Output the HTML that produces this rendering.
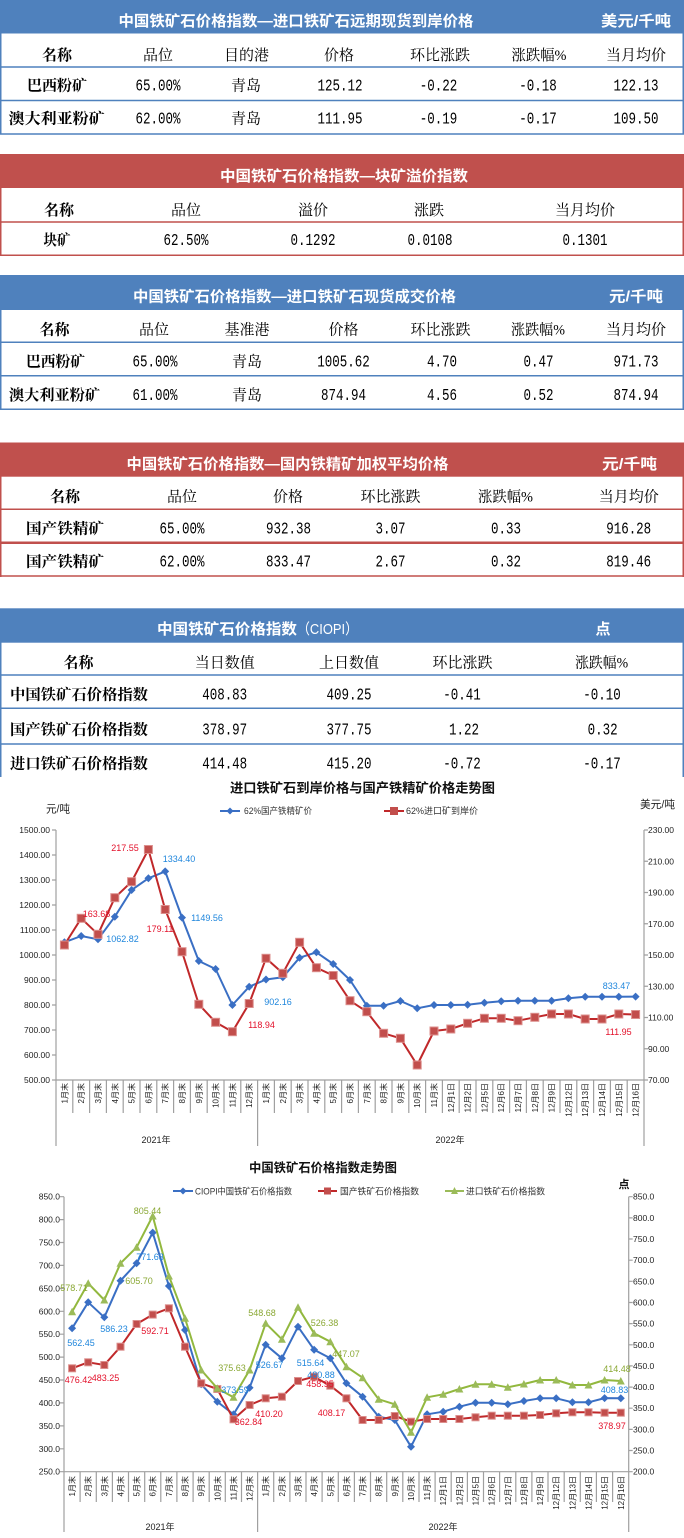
<!DOCTYPE html>
<html><head><meta charset="utf-8"><style>
html,body{margin:0;padding:0;background:#fff}
svg{display:block}
.t{font-family:"Liberation Sans","Noto Sans CJK SC",sans-serif;font-weight:bold;font-size:15px;fill:#fff}
.tn{font-family:"Liberation Sans","Noto Sans CJK SC",sans-serif;font-size:15px;fill:#fff}
.h{font-family:"Liberation Serif","Noto Serif CJK SC",serif;font-size:15px;fill:#000;text-anchor:middle}
.b{font-family:"Liberation Serif","Noto Serif CJK SC",serif;font-size:15px;font-weight:bold;fill:#000;text-anchor:middle}
.n{font-family:"Liberation Mono",monospace;font-size:17px;fill:#000;text-anchor:middle}
.ct{font-family:"Liberation Sans","Noto Sans CJK SC",sans-serif;font-weight:bold;fill:#111}
.lg{font-family:"Liberation Sans","Noto Sans CJK SC",sans-serif;font-size:9px;fill:#333}
.yl{font-family:"Liberation Sans",sans-serif;font-size:8.5px;fill:#222;text-anchor:end}
.yr{font-family:"Liberation Sans",sans-serif;font-size:8.5px;fill:#222}
.xl{font-family:"Liberation Sans","Noto Sans CJK SC",sans-serif;font-size:8px;fill:#222;text-anchor:end}
.yr2{font-family:"Liberation Sans","Noto Sans CJK SC",sans-serif;font-size:9px;fill:#222;text-anchor:middle}
.u{font-family:"Liberation Sans","Noto Sans CJK SC",sans-serif;font-size:11px;fill:#222}
.dl{font-family:"Liberation Sans",sans-serif;font-size:9px;text-anchor:middle}
.dB{fill:#1f86dc}.dR{fill:#e3112b}.dG{fill:#8aa834}
</style></head><body>
<svg width="684" height="1538" viewBox="0 0 684 1538" xmlns="http://www.w3.org/2000/svg">
<defs>
<marker id="dia" markerWidth="9" markerHeight="9" refX="4.5" refY="4.5" markerUnits="userSpaceOnUse"><path d="M4.5 0.5 L8.5 4.5 L4.5 8.5 L0.5 4.5Z" fill="#3a6fc4"/></marker>
<marker id="sq1" markerWidth="10" markerHeight="10" refX="5" refY="5" markerUnits="userSpaceOnUse"><rect x="1" y="1" width="8" height="8" fill="#c24e4c" stroke="#dc8f8d" stroke-width="1"/></marker>
<marker id="sq2" markerWidth="9" markerHeight="9" refX="4.5" refY="4.5" markerUnits="userSpaceOnUse"><rect x="1" y="1" width="7" height="7" fill="#c24e4c" stroke="#dc8f8d" stroke-width="1"/></marker>
<marker id="tri" markerWidth="10" markerHeight="10" refX="5" refY="5" markerUnits="userSpaceOnUse"><path d="M5 1 L9 8.5 L1 8.5Z" fill="#9bbb59"/></marker>
</defs>

<!-- TABLE 1 -->
<rect x="0" y="0" width="684" height="33.5" fill="#4f81bd"/>
<text class="t" x="296" y="26.2" text-anchor="middle" textLength="355" lengthAdjust="spacingAndGlyphs">中国铁矿石价格指数—进口铁矿石远期现货到岸价格</text>
<text class="t" x="636" y="26.2" text-anchor="middle" textLength="70" lengthAdjust="spacingAndGlyphs">美元/千吨</text>
<g stroke="#4f81bd" stroke-width="1.5" fill="none">
<path d="M0 67H684M0 100.5H684M0 134H684M0.75 33V134.5M683.25 33V134.5"/>
</g>
<text class="b" x="57" y="60" textLength="30" lengthAdjust="spacingAndGlyphs">名称</text>
<text class="h" x="158" y="60">品位</text>
<text class="h" x="246.5" y="60">目的港</text>
<text class="h" x="339" y="60">价格</text>
<text class="h" x="440" y="60">环比涨跌</text>
<text class="h" x="539" y="60" textLength="55" lengthAdjust="spacingAndGlyphs">涨跌幅%</text>
<text class="h" x="636" y="60">当月均价</text>
<text class="b" x="57" y="90.7" textLength="60" lengthAdjust="spacingAndGlyphs">巴西粉矿</text>
<text class="n" x="158" y="90.7" textLength="45" lengthAdjust="spacingAndGlyphs">65.00%</text>
<text class="h" x="246" y="90.7">青岛</text>
<text class="n" x="340" y="90.7" textLength="45" lengthAdjust="spacingAndGlyphs">125.12</text>
<text class="n" x="438.5" y="90.7" textLength="37.5" lengthAdjust="spacingAndGlyphs">-0.22</text>
<text class="n" x="538" y="90.7" textLength="37.5" lengthAdjust="spacingAndGlyphs">-0.18</text>
<text class="n" x="636" y="90.7" textLength="45" lengthAdjust="spacingAndGlyphs">122.13</text>
<text class="b" x="56.7" y="123.7" textLength="96" lengthAdjust="spacingAndGlyphs">澳大利亚粉矿</text>
<text class="n" x="158" y="123.7" textLength="45" lengthAdjust="spacingAndGlyphs">62.00%</text>
<text class="h" x="246" y="123.7">青岛</text>
<text class="n" x="340" y="123.7" textLength="45" lengthAdjust="spacingAndGlyphs">111.95</text>
<text class="n" x="438.5" y="123.7" textLength="37.5" lengthAdjust="spacingAndGlyphs">-0.19</text>
<text class="n" x="538" y="123.7" textLength="37.5" lengthAdjust="spacingAndGlyphs">-0.17</text>
<text class="n" x="636" y="123.7" textLength="45" lengthAdjust="spacingAndGlyphs">109.50</text>

<!-- TABLE 2 -->
<rect x="0" y="154" width="684" height="34" fill="#c0504d"/>
<text class="t" x="344" y="181" text-anchor="middle" textLength="248" lengthAdjust="spacingAndGlyphs">中国铁矿石价格指数—块矿溢价指数</text>
<g stroke="#c0504d" stroke-width="1.5" fill="none">
<path d="M0 222H684M0 255.3H684M0.75 188V256M683.25 188V256"/>
</g>
<text class="b" x="59" y="215" textLength="30" lengthAdjust="spacingAndGlyphs">名称</text>
<text class="h" x="186" y="215">品位</text>
<text class="h" x="313" y="215">溢价</text>
<text class="h" x="429" y="215">涨跌</text>
<text class="h" x="585" y="215">当月均价</text>
<text class="b" x="57" y="245" textLength="27" lengthAdjust="spacingAndGlyphs">块矿</text>
<text class="n" x="186" y="245" textLength="45" lengthAdjust="spacingAndGlyphs">62.50%</text>
<text class="n" x="313" y="245" textLength="45" lengthAdjust="spacingAndGlyphs">0.1292</text>
<text class="n" x="430" y="245" textLength="45" lengthAdjust="spacingAndGlyphs">0.0108</text>
<text class="n" x="585" y="245" textLength="45" lengthAdjust="spacingAndGlyphs">0.1301</text>

<!-- TABLE 3 -->
<rect x="0" y="275" width="684" height="35" fill="#4f81bd"/>
<text class="t" x="294.5" y="301.7" text-anchor="middle" textLength="323" lengthAdjust="spacingAndGlyphs">中国铁矿石价格指数—进口铁矿石现货成交价格</text>
<text class="t" x="636" y="301.7" text-anchor="middle" textLength="54" lengthAdjust="spacingAndGlyphs">元/千吨</text>
<g stroke="#4f81bd" stroke-width="1.5" fill="none">
<path d="M0 342.3H684M0 375.7H684M0 409.3H684M0.75 310V410M683.25 310V410"/>
</g>
<text class="b" x="54.5" y="334.7" textLength="30" lengthAdjust="spacingAndGlyphs">名称</text>
<text class="h" x="154" y="334.7">品位</text>
<text class="h" x="247" y="334.7">基准港</text>
<text class="h" x="343.5" y="334.7">价格</text>
<text class="h" x="440.5" y="334.7">环比涨跌</text>
<text class="h" x="538" y="334.7" textLength="54" lengthAdjust="spacingAndGlyphs">涨跌幅%</text>
<text class="h" x="636" y="334.7">当月均价</text>
<text class="b" x="55.5" y="366.7" textLength="59" lengthAdjust="spacingAndGlyphs">巴西粉矿</text>
<text class="n" x="155" y="366.7" textLength="45" lengthAdjust="spacingAndGlyphs">65.00%</text>
<text class="h" x="247" y="366.7">青岛</text>
<text class="n" x="343.5" y="366.7" textLength="52.5" lengthAdjust="spacingAndGlyphs">1005.62</text>
<text class="n" x="442" y="366.7" textLength="30" lengthAdjust="spacingAndGlyphs">4.70</text>
<text class="n" x="538.5" y="366.7" textLength="30" lengthAdjust="spacingAndGlyphs">0.47</text>
<text class="n" x="636" y="366.7" textLength="45" lengthAdjust="spacingAndGlyphs">971.73</text>
<text class="b" x="54.5" y="400.2" textLength="91" lengthAdjust="spacingAndGlyphs">澳大利亚粉矿</text>
<text class="n" x="155" y="400.2" textLength="45" lengthAdjust="spacingAndGlyphs">61.00%</text>
<text class="h" x="247" y="400.2">青岛</text>
<text class="n" x="343.5" y="400.2" textLength="45" lengthAdjust="spacingAndGlyphs">874.94</text>
<text class="n" x="442" y="400.2" textLength="30" lengthAdjust="spacingAndGlyphs">4.56</text>
<text class="n" x="538.5" y="400.2" textLength="30" lengthAdjust="spacingAndGlyphs">0.52</text>
<text class="n" x="636" y="400.2" textLength="45" lengthAdjust="spacingAndGlyphs">874.94</text>

<!-- TABLE 4 -->
<rect x="0" y="442.5" width="684" height="34.2" fill="#c0504d"/>
<text class="t" x="287.5" y="469" text-anchor="middle" textLength="322" lengthAdjust="spacingAndGlyphs">中国铁矿石价格指数—国内铁精矿加权平均价格</text>
<text class="t" x="629.5" y="469" text-anchor="middle" textLength="55" lengthAdjust="spacingAndGlyphs">元/千吨</text>
<g stroke="#c0504d" fill="none">
<path d="M0 509.3H684M0 576H684M0.75 476V577M683.25 476V577" stroke-width="1.5"/>
<path d="M0 542.7H684" stroke-width="2.5"/>
</g>
<text class="b" x="65" y="501.7" textLength="30" lengthAdjust="spacingAndGlyphs">名称</text>
<text class="h" x="182" y="501.7">品位</text>
<text class="h" x="288" y="501.7">价格</text>
<text class="h" x="390.5" y="501.7">环比涨跌</text>
<text class="h" x="505.5" y="501.7" textLength="55" lengthAdjust="spacingAndGlyphs">涨跌幅%</text>
<text class="h" x="628.7" y="501.7">当月均价</text>
<text class="b" x="65" y="533.7" textLength="78" lengthAdjust="spacingAndGlyphs">国产铁精矿</text>
<text class="n" x="182" y="533.7" textLength="45" lengthAdjust="spacingAndGlyphs">65.00%</text>
<text class="n" x="288.5" y="533.7" textLength="45" lengthAdjust="spacingAndGlyphs">932.38</text>
<text class="n" x="390.5" y="533.7" textLength="30" lengthAdjust="spacingAndGlyphs">3.07</text>
<text class="n" x="506" y="533.7" textLength="30" lengthAdjust="spacingAndGlyphs">0.33</text>
<text class="n" x="628.7" y="533.7" textLength="45" lengthAdjust="spacingAndGlyphs">916.28</text>
<text class="b" x="65" y="566.7" textLength="78" lengthAdjust="spacingAndGlyphs">国产铁精矿</text>
<text class="n" x="182" y="566.7" textLength="45" lengthAdjust="spacingAndGlyphs">62.00%</text>
<text class="n" x="288.5" y="566.7" textLength="45" lengthAdjust="spacingAndGlyphs">833.47</text>
<text class="n" x="390.5" y="566.7" textLength="30" lengthAdjust="spacingAndGlyphs">2.67</text>
<text class="n" x="506" y="566.7" textLength="30" lengthAdjust="spacingAndGlyphs">0.32</text>
<text class="n" x="628.7" y="566.7" textLength="45" lengthAdjust="spacingAndGlyphs">819.46</text>

<!-- TABLE 5 -->
<rect x="0" y="608.3" width="684" height="34.4" fill="#4f81bd"/>
<text class="t" x="157" y="634" textLength="140" lengthAdjust="spacingAndGlyphs">中国铁矿石价格指数</text>
<text class="tn" x="297" y="634" textLength="61" lengthAdjust="spacingAndGlyphs">（CIOPI）</text>
<text class="t" x="603" y="634" text-anchor="middle">点</text>
<g stroke="#4f81bd" stroke-width="1.5" fill="none">
<path d="M0 675H684M0 708.3H684M0 744H684M0.75 642V777M683.25 642V777"/>
</g>
<text class="b" x="78.5" y="667.7" textLength="30" lengthAdjust="spacingAndGlyphs">名称</text>
<text class="h" x="224.7" y="667.7">当日数值</text>
<text class="h" x="349" y="667.7">上日数值</text>
<text class="h" x="462.5" y="667.7">环比涨跌</text>
<text class="h" x="601.6" y="667.7" textLength="53" lengthAdjust="spacingAndGlyphs">涨跌幅%</text>
<text class="b" x="79" y="699.7" textLength="138" lengthAdjust="spacingAndGlyphs">中国铁矿石价格指数</text>
<text class="n" x="224.7" y="699.7" textLength="45" lengthAdjust="spacingAndGlyphs">408.83</text>
<text class="n" x="349" y="699.7" textLength="45" lengthAdjust="spacingAndGlyphs">409.25</text>
<text class="n" x="462" y="699.7" textLength="37.5" lengthAdjust="spacingAndGlyphs">-0.41</text>
<text class="n" x="602" y="699.7" textLength="37.5" lengthAdjust="spacingAndGlyphs">-0.10</text>
<text class="b" x="79" y="734.7" textLength="138" lengthAdjust="spacingAndGlyphs">国产铁矿石价格指数</text>
<text class="n" x="224.7" y="734.7" textLength="45" lengthAdjust="spacingAndGlyphs">378.97</text>
<text class="n" x="349" y="734.7" textLength="45" lengthAdjust="spacingAndGlyphs">377.75</text>
<text class="n" x="464" y="734.7" textLength="30" lengthAdjust="spacingAndGlyphs">1.22</text>
<text class="n" x="602.6" y="734.7" textLength="30" lengthAdjust="spacingAndGlyphs">0.32</text>
<text class="b" x="79" y="768.7" textLength="138" lengthAdjust="spacingAndGlyphs">进口铁矿石价格指数</text>
<text class="n" x="224.7" y="768.7" textLength="45" lengthAdjust="spacingAndGlyphs">414.48</text>
<text class="n" x="349" y="768.7" textLength="45" lengthAdjust="spacingAndGlyphs">415.20</text>
<text class="n" x="462" y="768.7" textLength="37.5" lengthAdjust="spacingAndGlyphs">-0.72</text>
<text class="n" x="602" y="768.7" textLength="37.5" lengthAdjust="spacingAndGlyphs">-0.17</text>

<!-- CHART 1 -->
<text class="ct" x="362.5" y="792.5" font-size="13" text-anchor="middle" textLength="265" lengthAdjust="spacingAndGlyphs">进口铁矿石到岸价格与国产铁精矿价格走势图</text>
<line x1="220" y1="811" x2="240" y2="811" stroke="#3a6fc4" stroke-width="2"/>
<path d="M230 807.5L233.5 811L230 814.5L226.5 811Z" fill="#3a6fc4"/>
<text class="lg" x="244" y="814" textLength="68" lengthAdjust="spacingAndGlyphs">62%国产铁精矿价</text>
<line x1="384" y1="811" x2="404" y2="811" stroke="#c0282a" stroke-width="2"/>
<rect x="390" y="807" width="8" height="8" fill="#c24e4c"/>
<text class="lg" x="406" y="814" textLength="72" lengthAdjust="spacingAndGlyphs">62%进口矿到岸价</text>
<text class="u" x="46" y="812.5" textLength="24" lengthAdjust="spacingAndGlyphs">元/吨</text>
<text class="u" x="640" y="808" textLength="35" lengthAdjust="spacingAndGlyphs">美元/吨</text>

<g stroke="#a0a0a0" stroke-width="1.2" fill="none">
<path d="M56 830V1146M644 830V1146M257.6 1080V1146M56 1080H644"/>
<path d="M52 830H56M52 855H56M52 880H56M52 905H56M52 930H56M52 955H56M52 980H56M52 1005H56M52 1030H56M52 1055H56M52 1080H56"/>
<path d="M644 830H648M644 861.25H648M644 892.5H648M644 923.75H648M644 955H648M644 986.25H648M644 1017.5H648M644 1048.75H648M644 1080H648"/>
<path d="M72.8 1080V1113M89.6 1080V1113M106.4 1080V1113M123.2 1080V1113M140 1080V1113M156.8 1080V1113M173.6 1080V1113M190.4 1080V1113M207.2 1080V1113M224 1080V1113M240.8 1080V1113M274.4 1080V1113M291.2 1080V1113M308 1080V1113M324.8 1080V1113M341.6 1080V1113M358.4 1080V1113M375.2 1080V1113M392 1080V1113M408.8 1080V1113M425.6 1080V1113M442.4 1080V1113M459.2 1080V1113M476 1080V1113M492.8 1080V1113M509.6 1080V1113M526.4 1080V1113M543.2 1080V1113M560 1080V1113M576.8 1080V1113M593.6 1080V1113M610.4 1080V1113M627.2 1080V1113"/>
</g>
<g class="yl">
<text x="50" y="833">1500.00</text><text x="50" y="858">1400.00</text><text x="50" y="883">1300.00</text><text x="50" y="908">1200.00</text><text x="50" y="933">1100.00</text><text x="50" y="958">1000.00</text><text x="50" y="983">900.00</text><text x="50" y="1008">800.00</text><text x="50" y="1033">700.00</text><text x="50" y="1058">600.00</text><text x="50" y="1083">500.00</text>
</g>
<g class="yr">
<text x="648" y="833">230.00</text><text x="648" y="864.3">210.00</text><text x="648" y="895.5">190.00</text><text x="648" y="926.8">170.00</text><text x="648" y="958">150.00</text><text x="648" y="989.3">130.00</text><text x="648" y="1020.5">110.00</text><text x="648" y="1051.8">90.00</text><text x="648" y="1083">70.00</text>
</g>
<g class="xl">
<text transform="translate(67.4,1083) rotate(-90)">1月末</text>
<text transform="translate(84.2,1083) rotate(-90)">2月末</text>
<text transform="translate(101,1083) rotate(-90)">3月末</text>
<text transform="translate(117.8,1083) rotate(-90)">4月末</text>
<text transform="translate(134.6,1083) rotate(-90)">5月末</text>
<text transform="translate(151.4,1083) rotate(-90)">6月末</text>
<text transform="translate(168.2,1083) rotate(-90)">7月末</text>
<text transform="translate(185,1083) rotate(-90)">8月末</text>
<text transform="translate(201.8,1083) rotate(-90)">9月末</text>
<text transform="translate(218.6,1083) rotate(-90)">10月末</text>
<text transform="translate(235.4,1083) rotate(-90)">11月末</text>
<text transform="translate(252.2,1083) rotate(-90)">12月末</text>
<text transform="translate(269,1083) rotate(-90)">1月末</text>
<text transform="translate(285.8,1083) rotate(-90)">2月末</text>
<text transform="translate(302.6,1083) rotate(-90)">3月末</text>
<text transform="translate(319.4,1083) rotate(-90)">4月末</text>
<text transform="translate(336.2,1083) rotate(-90)">5月末</text>
<text transform="translate(353,1083) rotate(-90)">6月末</text>
<text transform="translate(369.8,1083) rotate(-90)">7月末</text>
<text transform="translate(386.6,1083) rotate(-90)">8月末</text>
<text transform="translate(403.4,1083) rotate(-90)">9月末</text>
<text transform="translate(420.2,1083) rotate(-90)">10月末</text>
<text transform="translate(437,1083) rotate(-90)">11月末</text>
<text transform="translate(453.8,1083) rotate(-90)">12月1日</text>
<text transform="translate(470.6,1083) rotate(-90)">12月2日</text>
<text transform="translate(487.4,1083) rotate(-90)">12月5日</text>
<text transform="translate(504.2,1083) rotate(-90)">12月6日</text>
<text transform="translate(521,1083) rotate(-90)">12月7日</text>
<text transform="translate(537.8,1083) rotate(-90)">12月8日</text>
<text transform="translate(554.6,1083) rotate(-90)">12月9日</text>
<text transform="translate(571.4,1083) rotate(-90)">12月12日</text>
<text transform="translate(588.2,1083) rotate(-90)">12月13日</text>
<text transform="translate(605,1083) rotate(-90)">12月14日</text>
<text transform="translate(621.8,1083) rotate(-90)">12月15日</text>
<text transform="translate(638.6,1083) rotate(-90)">12月16日</text>
</g>
<text class="yr2" x="156" y="1143">2021年</text>
<text class="yr2" x="450" y="1143">2022年</text>

<polyline fill="none" stroke="#3a6fc4" stroke-width="2" stroke-linejoin="round" marker-start="url(#dia)" marker-mid="url(#dia)" marker-end="url(#dia)" points="64.4,942.3 81.2,936 98,939.3 114.8,916.7 131.6,890 148.4,878.3 165.2,871.4 182,917.6 198.8,961 215.6,969 232.4,1005 249.2,986.7 266,979.5 282.8,977.3 299.6,957.7 316.4,952.3 333.2,964 350,980 366.8,1005.7 383.6,1005.7 400.4,1001 417.2,1008.3 434,1005 450.8,1005 467.6,1004.7 484.4,1002.7 501.2,1001.3 518,1000.7 534.8,1000.7 551.6,1000.7 568.4,998.3 585.2,996.7 602,996.7 618.8,996.7 635.6,996.6"/>
<polyline fill="none" stroke="#c0282a" stroke-width="2" stroke-linejoin="round" marker-start="url(#sq1)" marker-mid="url(#sq1)" marker-end="url(#sq1)" points="64.4,945 81.2,918.3 98,934.3 114.8,897.7 131.6,881.7 148.4,849.5 165.2,909.5 182,951.7 198.8,1004.3 215.6,1022.3 232.4,1031.7 249.2,1003.5 266,958.3 282.8,973.3 299.6,942.3 316.4,967.7 333.2,975.5 350,1000.7 366.8,1011.7 383.6,1033.3 400.4,1038.3 417.2,1065 434,1031 450.8,1029 467.6,1023.3 484.4,1018.3 501.2,1018.3 518,1020.7 534.8,1017.3 551.6,1014 568.4,1014 585.2,1019 602,1019 618.8,1014 635.6,1014.5"/>

<g class="dl">
<text class="dR" x="125" y="851">217.55</text>
<text class="dR" x="96.5" y="917">163.68</text>
<text class="dR" x="160" y="932">179.11</text>
<text class="dB" x="179" y="862">1334.40</text>
<text class="dB" x="122.5" y="942">1062.82</text>
<text class="dB" x="207" y="921">1149.56</text>
<text class="dB" x="278" y="1005">902.16</text>
<text class="dR" x="261.5" y="1028">118.94</text>
<text class="dB" x="616.5" y="989">833.47</text>
<text class="dR" x="618.5" y="1035">111.95</text>
</g>

<!-- CHART 2 -->
<text class="ct" x="323" y="1172" font-size="12.5" text-anchor="middle" textLength="148" lengthAdjust="spacingAndGlyphs">中国铁矿石价格指数走势图</text>
<line x1="173" y1="1191" x2="193" y2="1191" stroke="#3a6fc4" stroke-width="2"/>
<path d="M183 1187.5L186.5 1191L183 1194.5L179.5 1191Z" fill="#3a6fc4"/>
<text class="lg" x="195" y="1194.5" textLength="97" lengthAdjust="spacingAndGlyphs">CIOPI中国铁矿石价格指数</text>
<line x1="318" y1="1191" x2="337" y2="1191" stroke="#c0282a" stroke-width="2"/>
<rect x="324" y="1187.5" width="7" height="7" fill="#c24e4c"/>
<text class="lg" x="340" y="1194.5" textLength="79" lengthAdjust="spacingAndGlyphs">国产铁矿石价格指数</text>
<line x1="445" y1="1191" x2="464" y2="1191" stroke="#9bbb59" stroke-width="2"/>
<path d="M454.5 1187L458 1194L451 1194Z" fill="#9bbb59"/>
<text class="lg" x="466" y="1194.5" textLength="79" lengthAdjust="spacingAndGlyphs">进口铁矿石价格指数</text>
<text class="ct" x="624" y="1188" font-size="11" text-anchor="middle">点</text>

<g stroke="#a0a0a0" stroke-width="1.2" fill="none">
<path d="M64 1196.7V1532M628.7 1196.7V1532M257.6 1471.7V1532M64 1471.7H628.7"/>
<path d="M60 1196.7H64M60 1219.6H64M60 1242.5H64M60 1265.4H64M60 1288.4H64M60 1311.3H64M60 1334.2H64M60 1357.1H64M60 1380H64M60 1402.9H64M60 1425.9H64M60 1448.8H64M60 1471.7H64"/>
<path d="M628.7 1196.7H632.7M628.7 1217.9H632.7M628.7 1239H632.7M628.7 1260.2H632.7M628.7 1281.3H632.7M628.7 1302.5H632.7M628.7 1323.6H632.7M628.7 1344.8H632.7M628.7 1365.9H632.7M628.7 1387.1H632.7M628.7 1408.2H632.7M628.7 1429.4H632.7M628.7 1450.5H632.7M628.7 1471.7H632.7"/>
<path d="M80.1 1471.7V1502M96.3 1471.7V1502M112.4 1471.7V1502M128.5 1471.7V1502M144.7 1471.7V1502M160.8 1471.7V1502M176.9 1471.7V1502M193.1 1471.7V1502M209.2 1471.7V1502M225.3 1471.7V1502M241.5 1471.7V1502M273.7 1471.7V1502M289.9 1471.7V1502M306 1471.7V1502M322.1 1471.7V1502M338.3 1471.7V1502M354.4 1471.7V1502M370.5 1471.7V1502M386.7 1471.7V1502M402.8 1471.7V1502M419 1471.7V1502M435.1 1471.7V1502M451.2 1471.7V1502M467.4 1471.7V1502M483.5 1471.7V1502M499.6 1471.7V1502M515.8 1471.7V1502M531.9 1471.7V1502M548 1471.7V1502M564.2 1471.7V1502M580.3 1471.7V1502M596.4 1471.7V1502M612.6 1471.7V1502"/>
</g>
<g class="yl">
<text x="60" y="1199.7">850.0</text><text x="60" y="1222.6">800.0</text><text x="60" y="1245.5">750.0</text><text x="60" y="1268.4">700.0</text><text x="60" y="1291.4">650.0</text><text x="60" y="1314.3">600.0</text><text x="60" y="1337.2">550.0</text><text x="60" y="1360.1">500.0</text><text x="60" y="1383">450.0</text><text x="60" y="1405.9">400.0</text><text x="60" y="1428.9">350.0</text><text x="60" y="1451.8">300.0</text><text x="60" y="1474.7">250.0</text>
</g>
<g class="yr">
<text x="633" y="1199.7">850.0</text><text x="633" y="1220.9">800.0</text><text x="633" y="1242">750.0</text><text x="633" y="1263.2">700.0</text><text x="633" y="1284.3">650.0</text><text x="633" y="1305.5">600.0</text><text x="633" y="1326.6">550.0</text><text x="633" y="1347.8">500.0</text><text x="633" y="1368.9">450.0</text><text x="633" y="1390.1">400.0</text><text x="633" y="1411.2">350.0</text><text x="633" y="1432.4">300.0</text><text x="633" y="1453.5">250.0</text><text x="633" y="1474.7">200.0</text>
</g>
<g class="xl">
<text transform="translate(75.1,1476) rotate(-90)">1月末</text>
<text transform="translate(91.2,1476) rotate(-90)">2月末</text>
<text transform="translate(107.3,1476) rotate(-90)">3月末</text>
<text transform="translate(123.5,1476) rotate(-90)">4月末</text>
<text transform="translate(139.6,1476) rotate(-90)">5月末</text>
<text transform="translate(155.7,1476) rotate(-90)">6月末</text>
<text transform="translate(171.9,1476) rotate(-90)">7月末</text>
<text transform="translate(188,1476) rotate(-90)">8月末</text>
<text transform="translate(204.2,1476) rotate(-90)">9月末</text>
<text transform="translate(220.3,1476) rotate(-90)">10月末</text>
<text transform="translate(236.5,1476) rotate(-90)">11月末</text>
<text transform="translate(252.6,1476) rotate(-90)">12月末</text>
<text transform="translate(268.7,1476) rotate(-90)">1月末</text>
<text transform="translate(284.9,1476) rotate(-90)">2月末</text>
<text transform="translate(301,1476) rotate(-90)">3月末</text>
<text transform="translate(317.1,1476) rotate(-90)">4月末</text>
<text transform="translate(333.3,1476) rotate(-90)">5月末</text>
<text transform="translate(349.4,1476) rotate(-90)">6月末</text>
<text transform="translate(365.6,1476) rotate(-90)">7月末</text>
<text transform="translate(381.7,1476) rotate(-90)">8月末</text>
<text transform="translate(397.8,1476) rotate(-90)">9月末</text>
<text transform="translate(414,1476) rotate(-90)">10月末</text>
<text transform="translate(430.1,1476) rotate(-90)">11月末</text>
<text transform="translate(446.2,1476) rotate(-90)">12月1日</text>
<text transform="translate(462.4,1476) rotate(-90)">12月2日</text>
<text transform="translate(478.5,1476) rotate(-90)">12月5日</text>
<text transform="translate(494.7,1476) rotate(-90)">12月6日</text>
<text transform="translate(510.8,1476) rotate(-90)">12月7日</text>
<text transform="translate(526.9,1476) rotate(-90)">12月8日</text>
<text transform="translate(543.1,1476) rotate(-90)">12月9日</text>
<text transform="translate(559.2,1476) rotate(-90)">12月12日</text>
<text transform="translate(575.4,1476) rotate(-90)">12月13日</text>
<text transform="translate(591.5,1476) rotate(-90)">12月14日</text>
<text transform="translate(607.6,1476) rotate(-90)">12月15日</text>
<text transform="translate(623.8,1476) rotate(-90)">12月16日</text>
</g>
<text class="yr2" x="160" y="1530">2021年</text>
<text class="yr2" x="443" y="1530">2022年</text>

<polyline fill="none" stroke="#3a6fc4" stroke-width="2" stroke-linejoin="round" marker-start="url(#dia)" marker-mid="url(#dia)" marker-end="url(#dia)" points="72.1,1328.3 88.2,1302.3 104.3,1317.3 120.5,1280.7 136.6,1263.3 152.7,1232.6 168.9,1286 185,1330 201.2,1384.3 217.3,1401.7 233.5,1414.4 249.6,1387.7 265.7,1344.7 281.9,1358.3 298,1326.7 314.1,1349.7 330.3,1358.3 346.4,1383.3 362.6,1396.7 378.7,1416.7 394.8,1420 411,1446.7 427.1,1414.3 443.2,1411.7 459.4,1406.7 475.5,1402.7 491.7,1402.7 507.8,1404.3 523.9,1401 540.1,1398.3 556.2,1398.3 572.4,1402.3 588.5,1402.3 604.6,1398.1 620.8,1398.3"/>
<polyline fill="none" stroke="#c0282a" stroke-width="2" stroke-linejoin="round" marker-start="url(#sq2)" marker-mid="url(#sq2)" marker-end="url(#sq2)" points="72.1,1368.3 88.2,1362.3 104.3,1365 120.5,1346.7 136.6,1324 152.7,1314.6 168.9,1308.3 185,1346.7 201.2,1383.3 217.3,1389 233.5,1419.3 249.6,1405 265.7,1398.3 281.9,1396.7 298,1381 314.1,1376.7 330.3,1385.7 346.4,1398.3 362.6,1420 378.7,1420 394.8,1416 411,1421.7 427.1,1419 443.2,1419 459.4,1419 475.5,1417.3 491.7,1415.7 507.8,1415.7 523.9,1415.7 540.1,1415 556.2,1413.3 572.4,1412.3 588.5,1412.3 604.6,1412.7 620.8,1412.7"/>
<polyline fill="none" stroke="#92b83e" stroke-width="2" stroke-linejoin="round" marker-start="url(#tri)" marker-mid="url(#tri)" marker-end="url(#tri)" points="72.1,1311.7 88.2,1283.3 104.3,1300 120.5,1263.3 136.6,1247.3 152.7,1216 168.9,1276 185,1318.3 201.2,1370 217.3,1388.3 233.5,1397.3 249.6,1370 265.7,1323.3 281.9,1339.3 298,1307.3 314.1,1333.3 330.3,1341.7 346.4,1366.7 362.6,1377.7 378.7,1399.3 394.8,1404.3 411,1432.3 427.1,1397.3 443.2,1394.3 459.4,1389 475.5,1384.3 491.7,1384.3 507.8,1387.3 523.9,1384 540.1,1380 556.2,1380 572.4,1385 588.5,1385 604.6,1380 620.8,1381"/>

<g class="dl" font-size="8.5">
<text class="dG" x="74" y="1291">578.71</text>
<text class="dG" x="139" y="1284">605.70</text>
<text class="dG" x="147.5" y="1214">805.44</text>
<text class="dB" x="150" y="1260">771.63</text>
<text class="dB" x="114" y="1332">586.23</text>
<text class="dB" x="81" y="1346">562.45</text>
<text class="dR" x="155" y="1334">592.71</text>
<text class="dG" x="262" y="1316">548.68</text>
<text class="dG" x="324.5" y="1326">526.38</text>
<text class="dR" x="78.5" y="1383">476.42</text>
<text class="dR" x="105.5" y="1381">483.25</text>
<text class="dG" x="232" y="1371">375.63</text>
<text class="dB" x="235" y="1393">373.59</text>
<text class="dB" x="269.5" y="1368">526.67</text>
<text class="dR" x="248.5" y="1425">362.84</text>
<text class="dR" x="269" y="1417">410.20</text>
<text class="dB" x="310.5" y="1366">515.64</text>
<text class="dB" x="321" y="1378">480.88</text>
<text class="dR" x="320" y="1387">458.95</text>
<text class="dR" x="331.5" y="1416">408.17</text>
<text class="dG" x="346" y="1357">447.07</text>
<text class="dG" x="617" y="1372">414.48</text>
<text class="dB" x="614.5" y="1393">408.83</text>
<text class="dR" x="612" y="1429">378.97</text>
</g>
</svg>
</body></html>
